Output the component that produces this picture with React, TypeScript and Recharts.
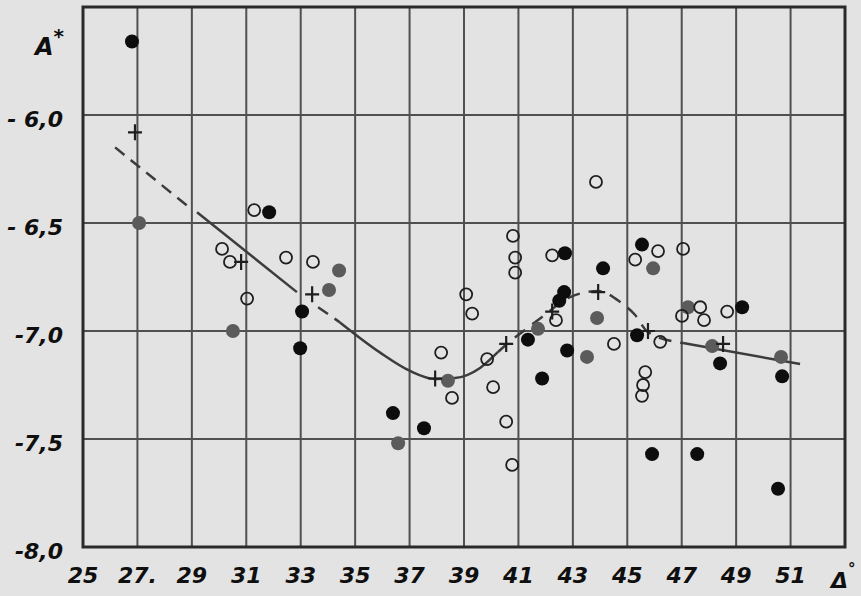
import React from "react";
import {
  ComposedChart,
  XAxis,
  YAxis,
  CartesianGrid,
  Scatter,
  Line,
  ReferenceArea,
  Label,
} from "recharts";

// ---- tick values / labels ----
const xTicks = [25, 27, 29, 31, 33, 35, 37, 39, 41, 43, 45, 47, 49, 51];
const xTickLabels = ["25", "27.", "29", "31", "33", "35", "37", "39", "41", "43", "45", "47", "49", "51"];
const yTicks = [-8, -7.5, -7, -6.5, -6];
const yTickLabels = ["-8,0", "-7,5", "-7,0", "- 6,5", "- 6,0"];

// ---- filled black points ----
const blackPoints = [
  { x: 26.8, y: -5.66 },
  { x: 31.84, y: -6.45 },
  { x: 33.05, y: -6.91 },
  { x: 32.98, y: -7.08 },
  { x: 36.39, y: -7.38 },
  { x: 37.53, y: -7.45 },
  { x: 41.35, y: -7.04 },
  { x: 41.87, y: -7.22 },
  { x: 42.79, y: -7.09 },
  { x: 42.5, y: -6.86 },
  { x: 42.68, y: -6.82 },
  { x: 42.71, y: -6.64 },
  { x: 44.11, y: -6.71 },
  { x: 45.54, y: -6.6 },
  { x: 45.36, y: -7.02 },
  { x: 49.22, y: -6.89 },
  { x: 48.41, y: -7.15 },
  { x: 50.69, y: -7.21 },
  { x: 45.91, y: -7.57 },
  { x: 47.57, y: -7.57 },
  { x: 50.54, y: -7.73 },
];

// ---- filled grey points ----
const greyPoints = [
  { x: 27.06, y: -6.5 },
  { x: 30.51, y: -7.0 },
  { x: 34.41, y: -6.72 },
  { x: 34.04, y: -6.81 },
  { x: 36.58, y: -7.52 },
  { x: 38.41, y: -7.23 },
  { x: 41.72, y: -6.99 },
  { x: 43.89, y: -6.94 },
  { x: 43.52, y: -7.12 },
  { x: 45.95, y: -6.71 },
  { x: 47.23, y: -6.89 },
  { x: 48.12, y: -7.07 },
  { x: 50.65, y: -7.12 },
];

// ---- open circles ----
const openPoints = [
  { x: 30.11, y: -6.62 },
  { x: 30.4, y: -6.68 },
  { x: 31.03, y: -6.85 },
  { x: 31.29, y: -6.44 },
  { x: 32.46, y: -6.66 },
  { x: 33.45, y: -6.68 },
  { x: 38.16, y: -7.1 },
  { x: 38.56, y: -7.31 },
  { x: 39.85, y: -7.13 },
  { x: 40.07, y: -7.26 },
  { x: 40.55, y: -7.42 },
  { x: 40.77, y: -7.62 },
  { x: 39.08, y: -6.83 },
  { x: 39.3, y: -6.92 },
  { x: 40.8, y: -6.56 },
  { x: 40.88, y: -6.66 },
  { x: 40.88, y: -6.73 },
  { x: 42.24, y: -6.65 },
  { x: 43.85, y: -6.31 },
  { x: 42.38, y: -6.95 },
  { x: 44.51, y: -7.06 },
  { x: 45.29, y: -6.67 },
  { x: 46.13, y: -6.63 },
  { x: 47.05, y: -6.62 },
  { x: 47.01, y: -6.93 },
  { x: 47.68, y: -6.89 },
  { x: 47.82, y: -6.95 },
  { x: 48.67, y: -6.91 },
  { x: 46.21, y: -7.05 },
  { x: 45.66, y: -7.19 },
  { x: 45.58, y: -7.25 },
  { x: 45.54, y: -7.3 },
];

// ---- mean points (crosses) ----
const meanPoints = [
  { x: 26.91, y: -6.08 },
  { x: 30.81, y: -6.68 },
  { x: 33.42, y: -6.83 },
  { x: 37.94, y: -7.22 },
  { x: 40.55, y: -7.06 },
  { x: 42.24, y: -6.91 },
  { x: 43.93, y: -6.82 },
  { x: 45.76, y: -7.0 },
  { x: 48.52, y: -7.06 },
];

// ---- fitted curve, in pieces (dashed / solid) ----
const curveDashed1 = [
  { x: 26.18, y: -6.15 },
  { x: 28.93, y: -6.43 },
];
const curveSolid1 = [
  { x: 29.19, y: -6.45 },
  { x: 32.86, y: -6.82 },
];
const curveDashed2 = [
  { x: 33.64, y: -6.89 },
  { x: 34.44, y: -6.96 },
];
const curveSolid2 = [
  { x: 34.44, y: -6.96 },
  { x: 35.92, y: -7.1 },
  { x: 37.02, y: -7.185 },
  { x: 37.94, y: -7.222 },
  { x: 38.67, y: -7.218 },
  { x: 39.59, y: -7.171 },
  { x: 40.25, y: -7.097 },
];
const curveDashed3 = [
  { x: 40.25, y: -7.097 },
  { x: 40.58, y: -7.06 },
  { x: 41.24, y: -6.995 },
  { x: 41.87, y: -6.935 },
  { x: 42.9, y: -6.843 },
  { x: 43.93, y: -6.815 },
  { x: 44.74, y: -6.866 },
  { x: 45.29, y: -6.926 },
  { x: 45.76, y: -7.005 },
  { x: 47.05, y: -7.056 },
];
const curveSolid3 = [
  { x: 47.05, y: -7.056 },
  { x: 51.35, y: -7.153 },
];

const FONT = "'DejaVu Sans', 'Liberation Sans', sans-serif";
const PAPER = "#e3e3e3";
const INK = "#0f0f0f";

const XTick = (props: any) => {
  const { x, y, payload } = props;
  const i = xTicks.indexOf(payload.value);
  return (
    <text x={x} y={y} dy="0.71em" textAnchor="middle" fontFamily={FONT}
      fontStyle="italic" fontWeight="bold" fontSize={22} fill={INK}>
      {xTickLabels[i]}
    </text>
  );
};

const YTick = (props: any) => {
  const { x, y, payload } = props;
  const i = yTicks.indexOf(payload.value);
  return (
    <text x={x} y={y + 4} dy="0.355em" textAnchor="end" fontFamily={FONT}
      fontStyle="italic" fontWeight="bold" fontSize={22} fill={INK}>
      {yTickLabels[i]}
    </text>
  );
};

const BlackDot = (p: any) => <circle cx={p.cx} cy={p.cy} r={7} fill="#0d0d0d" />;
const GreyDot = (p: any) => <circle cx={p.cx} cy={p.cy} r={7} fill="#5b5b5b" />;
const OpenDot = (p: any) => (
  <circle cx={p.cx} cy={p.cy} r={6} fill="none" stroke="#1e1e1e" strokeWidth={1.8} />
);
const Cross = (p: any) => (
  <path d={`M${p.cx - 7},${p.cy}H${p.cx + 7}M${p.cx},${p.cy - 8}V${p.cy + 8}`}
    stroke="#1e1e1e" strokeWidth={2.2} fill="none" />
);

const lineStroke = "#3c3c3c";

export default function App() {
  return (
    <div style={{ position: "absolute", left: 0, top: 0, width: 861, height: 596, background: PAPER }}>
      <ComposedChart width={861} height={596} margin={{ top: 7, right: 16, bottom: 0, left: 0 }}>
        <CartesianGrid stroke="#505050" strokeWidth={2} fill={PAPER} />
        <XAxis type="number" dataKey="x" domain={[25, 53]} ticks={xTicks} height={49}
          tickSize={0} tickMargin={20} axisLine={false} tickLine={false} tick={<XTick />}
          interval={0}>
          <Label content={(lp: any) => {
            const vb = lp.viewBox;
            return (
              <text x={vb.x + vb.width - 14} y={vb.y + 41} fontFamily={FONT} fontStyle="italic"
                fontWeight="bold" fontSize={22} fill={INK}>
                Δ<tspan dy={-14} fontSize={15}>°</tspan>
              </text>
            );
          }} />
        </XAxis>
        <YAxis type="number" dataKey="y" domain={[-8, -5.5]} ticks={yTicks} width={83}
          tickSize={0} tickMargin={20} axisLine={false} tickLine={false} tick={<YTick />}
          interval={0}>
          <Label content={(lp: any) => {
            const vb = lp.viewBox;
            return (
              <text x={vb.x + 35} y={vb.y + 48} fontFamily={FONT} fontStyle="italic"
                fontWeight="bold" fontSize={24} fill={INK}>
                A<tspan dy={-12} fontSize={20}>*</tspan>
              </text>
            );
          }} />
        </YAxis>
        <ReferenceArea x1={25} x2={53} y1={-8} y2={-5.5} fill="none" stroke="#2a2a2a"
          strokeWidth={3} fillOpacity={0} ifOverflow="visible" />

        <Line data={curveDashed1} dataKey="y" type="linear" stroke={lineStroke} strokeWidth={2.5}
          strokeDasharray="12 8" dot={false} activeDot={false} isAnimationActive={false} legendType="none" />
        <Line data={curveSolid1} dataKey="y" type="linear" stroke={lineStroke} strokeWidth={2.5}
          dot={false} activeDot={false} isAnimationActive={false} legendType="none" />
        <Line data={curveDashed2} dataKey="y" type="linear" stroke={lineStroke} strokeWidth={2.5}
          strokeDasharray="12 8" dot={false} activeDot={false} isAnimationActive={false} legendType="none" />
        <Line data={curveSolid2} dataKey="y" type="monotone" stroke={lineStroke} strokeWidth={2.5}
          dot={false} activeDot={false} isAnimationActive={false} legendType="none" />
        <Line data={curveDashed3} dataKey="y" type="monotone" stroke={lineStroke} strokeWidth={2.5}
          strokeDasharray="13 9" dot={false} activeDot={false} isAnimationActive={false} legendType="none" />
        <Line data={curveSolid3} dataKey="y" type="linear" stroke={lineStroke} strokeWidth={2.5}
          dot={false} activeDot={false} isAnimationActive={false} legendType="none" />

        <Scatter data={greyPoints} shape={<GreyDot />} isAnimationActive={false} />
        <Scatter data={blackPoints} shape={<BlackDot />} isAnimationActive={false} />
        <Scatter data={openPoints} shape={<OpenDot />} isAnimationActive={false} />
        <Scatter data={meanPoints} shape={<Cross />} isAnimationActive={false} />
      </ComposedChart>
    </div>
  );
}
